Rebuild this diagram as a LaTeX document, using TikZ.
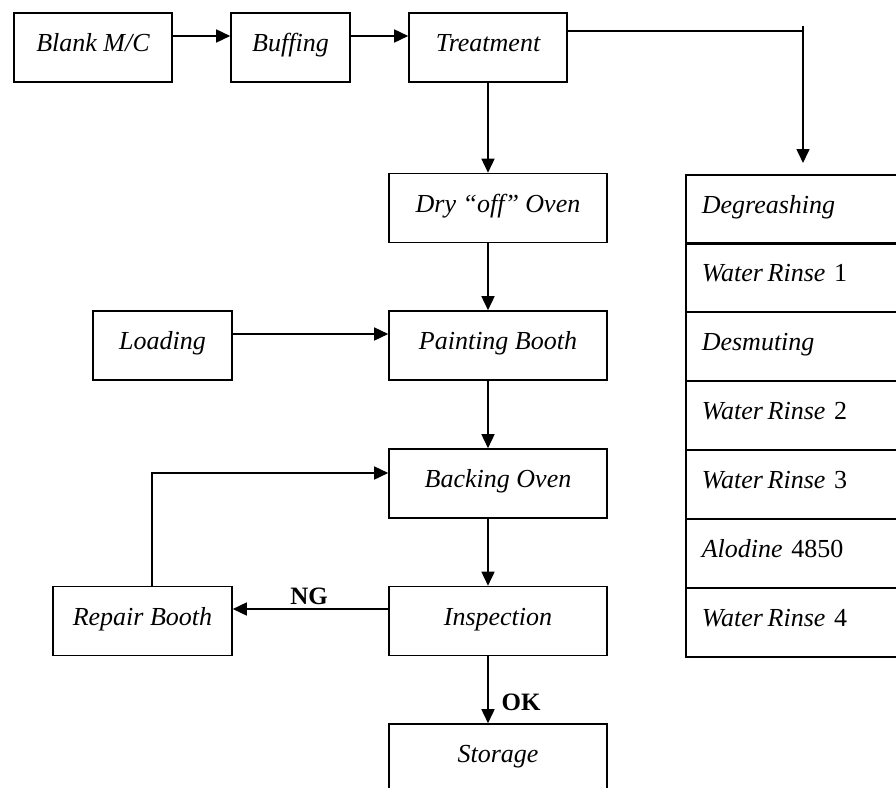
\documentclass[tikz,border=0pt]{standalone}
\usepackage{fontspec}
\setmainfont{Liberation Serif}
\usetikzlibrary{arrows.meta}
\begin{document}
\begin{tikzpicture}[x=1pt,y=-1pt,
  box/.style={draw, line width=1.6pt, rectangle, minimum height=69pt, inner sep=0pt,
    font=\fontsize{26}{30}\selectfont\itshape, text height=16pt, text depth=8pt},
  cell/.style={box, minimum width=214pt, text width=182pt, inner xsep=16pt,
    align=left, anchor=north west},
  conn/.style={line width=1.6pt},
  flow/.style={conn, -{Triangle[length=14pt,width=13pt]}},
  tag/.style={font=\fontsize{25}{30}\selectfont\bfseries}]
\useasboundingbox (0,0) rectangle (896,787);

% main process line
\node[box, minimum width=158pt] (blank)  at (93,47.5)    {Blank M/C};
\node[box, minimum width=119pt] (buff)   at (290.5,47.5) {Buffing};
\node[box, minimum width=158pt] (treat)  at (488,47.5)   {Treatment};
\node[box, minimum width=218pt] (dry)    at (498,208)    {Dry “off” Oven};
\node[box, minimum width=218pt] (paint)  at (498,345.5)  {Painting Booth};
\node[box, minimum width=139pt] (load)   at (162.5,345.5){Loading};
\node[box, minimum width=218pt] (bake)   at (498,483.5)  {Backing Oven};
\node[box, minimum width=218pt] (insp)   at (498,621)    {Inspection};
\node[box, minimum width=179pt] (repair) at (142.5,621)  {Repair Booth};
\node[box, minimum width=218pt] (store)  at (498,758.5)  {Storage};

% treatment steps
\node[cell] (c1) at (685,174) {Degreashing};
\node[cell] (c2) at (685,242) {Water\hspace{0.18em}Rinse {\upshape 1}};
\node[cell] (c3) at (685,311) {Desmuting};
\node[cell] (c4) at (685,380) {Water\hspace{0.18em}Rinse {\upshape 2}};
\node[cell] (c5) at (685,449) {Water\hspace{0.18em}Rinse {\upshape 3}};
\node[cell] (c6) at (685,518) {Alodine {\upshape 4850}};
\node[cell] (c7) at (685,587) {Water\hspace{0.18em}Rinse {\upshape 4}};

% helper points
\coordinate (axis) at (488,0);
\coordinate (split) at (803,31);
\coordinate (splittop) at (803,26);
\coordinate (degtip) at (803,163);
\coordinate (loop) at (152,473);

% connectors
\draw[flow] ([yshift=11.5pt]blank.east) -- ([yshift=11.5pt]buff.west);
\draw[flow] ([yshift=11.5pt]buff.east) -- ([yshift=11.5pt]treat.west);
\draw[conn] ([yshift=16.5pt]treat.east) -- ([yshift=16.5pt]treat.east -| split);
\draw[flow] (splittop) -- (degtip);
\draw[flow] (treat.south) -- (dry.north -| axis);
\draw[flow] (dry.south -| axis) -- (paint.north -| axis);
\draw[flow] ([yshift=11.5pt]load.east) -- ([yshift=11.5pt]load.east -| paint.west);
\draw[flow] (paint.south -| axis) -- (bake.north -| axis);
\draw[flow] (bake.south -| axis) -- (insp.north -| axis);
\draw[flow] ([yshift=12pt]insp.west) -- ([yshift=12pt]insp.west -| repair.east);
\draw[flow] (repair.north -| loop) -- (loop) -- (loop -| bake.west);
\draw[flow] (insp.south -| axis) -- (store.north -| axis);

% branch labels
\node[tag] (ng) at (309,596) {NG};
\node[tag] (ok) at (521,702) {OK};
\end{tikzpicture}
\end{document}
